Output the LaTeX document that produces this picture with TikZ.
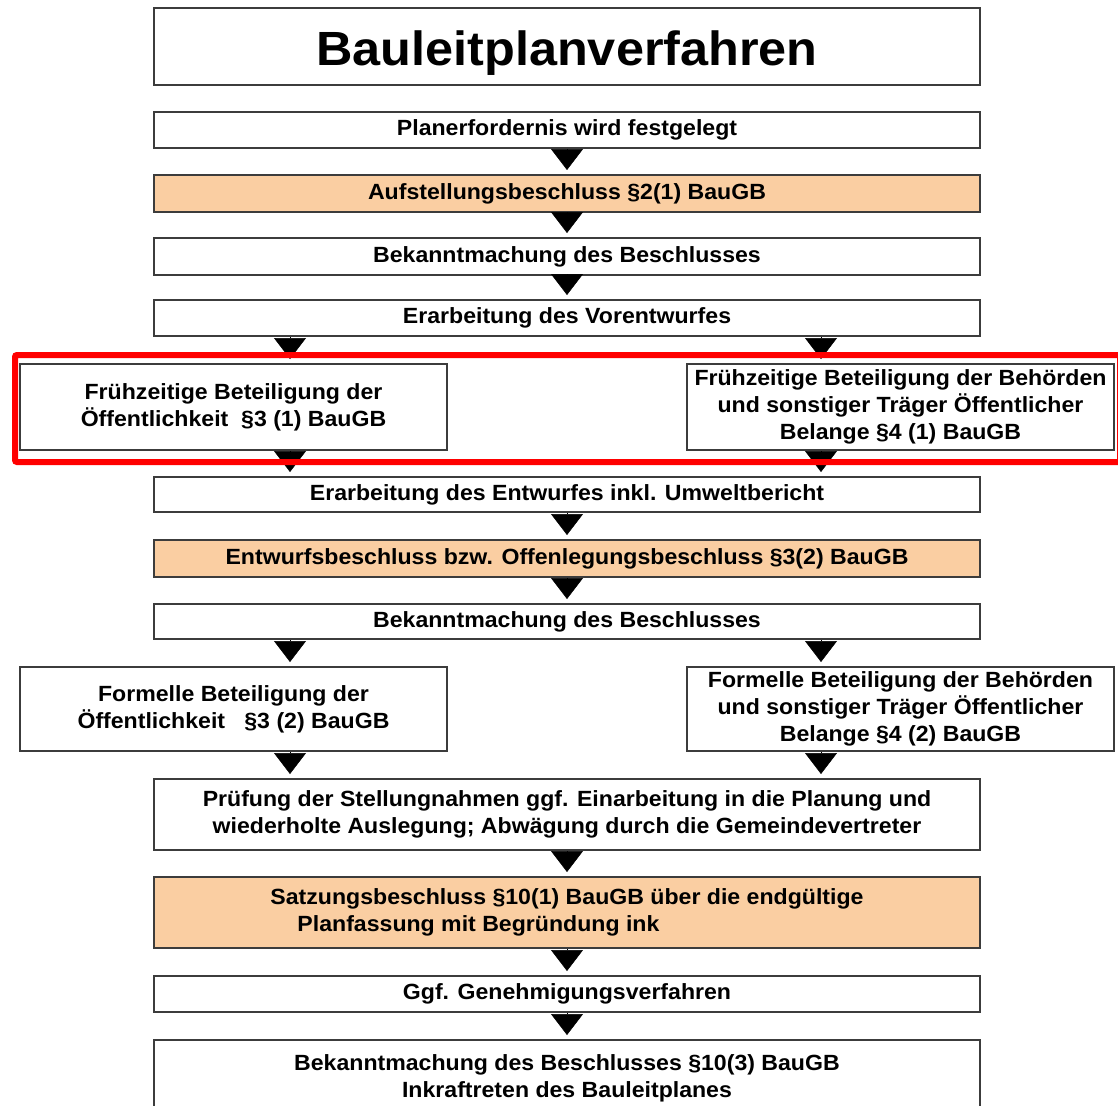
\documentclass[tikz,border=0pt]{standalone}
\usepackage{fontspec}
\setmainfont{Liberation Sans}[FakeStretch=1.05]
\usetikzlibrary{arrows.meta}
\definecolor{boxfill}{RGB}{250,206,162}
\definecolor{boxline}{RGB}{60,60,60}

\begin{document}
\begin{tikzpicture}[x=1pt,y=-1pt,
  stepbox/.style={draw=boxline, line width=2pt, fill=white, minimum width=826pt, minimum height=36pt,
    inner sep=0pt, align=center, font=\bfseries\fontsize{22}{27}\selectfont},
  sidebox/.style={stepbox, minimum width=427pt, minimum height=86pt},
  decision/.style={stepbox, fill=boxfill},
  flow/.style={-{Triangle[width=32pt,length=21pt]}, line width=0.5pt, shorten >=4pt}]
\clip (0,0) rectangle (1118,1105);
\fill[white] (0,0) rectangle (1118,1105);
\node[stepbox, minimum height=77pt, font=\bfseries\fontsize{48}{52}\selectfont] (title) at (567,47) {\raisebox{-6pt}[\height][\depth]{Bauleitplanverfahren}};
\node[stepbox] (need) at (567,130) {Planerfordernis wird festgelegt};
\node[decision, minimum height=37pt] (aufst) at (567,193.5) {Aufstellungsbeschluss §2(1) BauGB};
\node[stepbox, minimum height=37pt] (bek1) at (567,256.5) {Bekanntmachung des Beschlusses};
\node[stepbox, minimum height=36pt] (vorent) at (567,318) {Erarbeitung des Vorentwurfes};
\node[sidebox] (fruehL) at (233.5,407) {Frühzeitige Beteiligung der\\Öffentlichkeit~~§3 (1) BauGB};
\node[sidebox] (fruehR) at (900.5,407) {Frühzeitige Beteiligung der Behörden\\und sonstiger Träger Öffentlicher\\Belange §4 (1) BauGB};
\node[stepbox, minimum height=35pt] (entw) at (567,494.5) {Erarbeitung des Entwurfes inkl. Umweltbericht};
\node[decision, minimum height=37pt] (offen) at (567,558.5) {Entwurfsbeschluss bzw. Offenlegungsbeschluss §3(2) BauGB};
\node[stepbox, minimum height=35pt] (bek2) at (567,621.5) {Bekanntmachung des Beschlusses};
\node[sidebox, minimum height=84pt] (formL) at (233.5,709) {Formelle Beteiligung der\\Öffentlichkeit~~~§3 (2) BauGB};
\node[sidebox, minimum height=84pt] (formR) at (900.5,709) {Formelle Beteiligung der Behörden\\und sonstiger Träger Öffentlicher\\Belange §4 (2) BauGB};
\node[stepbox, minimum height=71pt] (pruef) at (567,814.5) {Prüfung der Stellungnahmen ggf. Einarbeitung in die Planung und\\wiederholte Auslegung; Abwägung durch die Gemeindevertreter};
\node[decision, minimum height=71pt, align=left] (satz) at (567,912.5) {Satzungsbeschluss §10(1) BauGB über die endgültige\\\hspace*{27pt}Planfassung mit Begründung ink};
\node[stepbox] (genehm) at (567,994) {Ggf. Genehmigungsverfahren};
\node[stepbox, minimum height=76pt] (inkraft) at (567,1078) {Bekanntmachung des Beschlusses §10(3) BauGB\\Inkraftreten des Bauleitplanes};
\coordinate (cl) at (290,0);
\coordinate (cr) at (821,0);
\draw[flow] (need) -- (aufst);
\draw[flow] (aufst) -- (bek1);
\draw[flow] (bek1) -- (vorent);
\draw[flow] (vorent.south -| cl) -- (fruehL.north -| cl);
\draw[flow] (vorent.south -| cr) -- (fruehR.north -| cr);
\draw[flow] (fruehL.south -| cl) -- (entw.north -| cl);
\draw[flow] (fruehR.south -| cr) -- (entw.north -| cr);
\draw[flow] (entw) -- (offen);
\draw[flow] (offen) -- (bek2);
\draw[flow] (bek2.south -| cl) -- (formL.north -| cl);
\draw[flow] (bek2.south -| cr) -- (formR.north -| cr);
\draw[flow] (formL.south -| cl) -- (pruef.north -| cl);
\draw[flow] (formR.south -| cr) -- (pruef.north -| cr);
\draw[flow] (pruef) -- (satz);
\draw[flow] (satz) -- (genehm);
\draw[flow] (genehm) -- (inkraft);
\draw[red, line width=6pt, rounded corners=2pt] ([shift={(-4,-8)}]fruehL.north west) rectangle ([shift={(5,11)}]fruehR.south east);
\end{tikzpicture}
\end{document}
